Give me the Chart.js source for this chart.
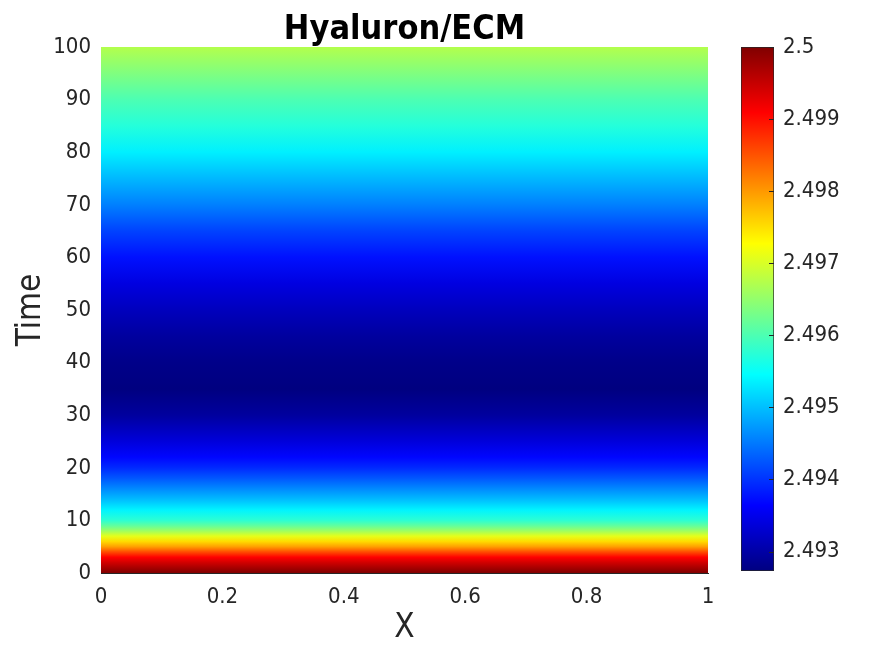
<!DOCTYPE html>
<html>
<head>
<meta charset="utf-8">
<script src="https://cdn.jsdelivr.net/npm/chart.js@4.4.1/dist/chart.umd.min.js"></script>
<style>
  html, body { margin: 0; padding: 0; background: #fff; }
  #wrap { position: relative; width: 891px; height: 645px; }
  #main { position: absolute; left: 0; top: 0; }
  #cbar { position: absolute; left: 735px; top: 0; }
</style>
</head>
<body>
<div id="wrap">
  <canvas id="main" width="891" height="645"></canvas>
  <canvas id="cbar" width="150" height="645"></canvas>
</div>
<script>
// values: Hyaluron/ECM level over time (uniform in X)
const timePoints = [0, 1, 2, 3, 4, 5, 6, 7, 8, 9, 10, 12, 14, 16, 18, 20, 22, 25, 30, 35,
  40, 45, 50, 55, 60, 65, 70, 75, 80, 85, 90, 95, 100];
const ecmValues = [2.5, 2.49971, 2.49942, 2.49909, 2.49855, 2.49796, 2.49753, 2.49709, 2.49658,
  2.49615, 2.49578, 2.49538, 2.49498, 2.49462, 2.49426, 2.49393, 2.49368, 2.49338, 2.49295,
  2.49273, 2.4928, 2.49295, 2.49317, 2.49342, 2.49375, 2.49411, 2.49455, 2.49495, 2.49535,
  2.49571, 2.496, 2.49637, 2.49673];
const xTickLabels = ['0', '0.2', '0.4', '0.6', '0.8', '1'];
const yTickLabels = ['0', '10', '20', '30', '40', '50', '60', '70', '80', '90', '100'];
const cbarTickLabels = ['2.493', '2.494', '2.495', '2.496', '2.497', '2.498', '2.499', '2.5'];
const colorMin = 2.49273;
const colorMax = 2.5;

const textColor = '#262626';
const fontFamily = '"DejaVu Sans Condensed", "DejaVu Sans", sans-serif';

// matlab jet colormap
function jet(v) {
  let p = (v - colorMin) / (colorMax - colorMin);
  p = Math.max(0, Math.min(1, p));
  const c = (x) => Math.round(255 * Math.max(0, Math.min(1, x)));
  const r = c(1.5 - Math.abs(4 * p - 3));
  const g = c(1.5 - Math.abs(4 * p - 2));
  const b = c(1.5 - Math.abs(4 * p - 1));
  return 'rgb(' + r + ',' + g + ',' + b + ')';
}

function heatGradient(context) {
  const chart = context.chart;
  if (!chart.chartArea) return null;
  const y = chart.scales.y;
  const y0 = y.getPixelForValue(0);
  const y1 = y.getPixelForValue(100);
  const grad = chart.ctx.createLinearGradient(0, y0, 0, y1);
  timePoints.forEach((t, i) => grad.addColorStop(t / 100, jet(ecmValues[i])));
  return grad;
}

new Chart(document.getElementById('main'), {
  type: 'line',
  data: {
    datasets: [{
      data: [{x: 0, y: 100}, {x: 1, y: 100}],
      fill: 'origin',
      backgroundColor: heatGradient,
      borderWidth: 0,
      pointRadius: 0
    }]
  },
  options: {
    responsive: false,
    animation: false,
    layout: { padding: { top: 0, right: 183, bottom: 0, left: 0 } },
    plugins: {
      legend: { display: false },
      tooltip: { enabled: false },
      title: {
        display: true,
        text: 'Hyaluron/ECM',
        color: '#000',
        fullSize: false,
        font: { family: fontFamily, size: 34, weight: 'bold', lineHeight: 1 },
        padding: { top: 13, bottom: 0 }
      }
    },
    scales: {
      x: {
        type: 'linear',
        min: 0,
        max: 1,
        afterBuildTicks: (s) => { s.ticks = xTickLabels.map(v => ({ value: parseFloat(v) })); },
        afterFit: (s) => { s.height = 72; },
        grid: { display: false, drawTicks: false },
        border: { display: true, color: textColor, width: 1 },
        ticks: {
          color: textColor,
          padding: 11,
          font: { family: fontFamily, size: 22 },
          callback: (v, i) => xTickLabels[i]
        },
        title: {
          display: true,
          text: 'X',
          color: textColor,
          font: { family: fontFamily, size: 33 },
          padding: { top: 0, bottom: -3 }
        }
      },
      y: {
        type: 'linear',
        min: 0,
        max: 100,
        afterBuildTicks: (s) => { s.ticks = yTickLabels.map(v => ({ value: parseFloat(v) })); },
        afterFit: (s) => { s.width = 101; },
        grid: { display: false, drawTicks: false },
        border: { display: true, color: textColor, width: 1 },
        ticks: {
          color: textColor,
          padding: 10,
          font: { family: fontFamily, size: 22 },
          callback: (v, i) => yTickLabels[i]
        },
        title: {
          display: true,
          text: 'Time',
          color: textColor,
          font: { family: fontFamily, size: 33 },
          padding: { top: 12, bottom: 0 }
        }
      }
    }
  }
});

// colorbar
const cbarTicks = {
  id: 'cbarTicks',
  afterDatasetsDraw(chart) {
    const { ctx, chartArea } = chart;
    const y = chart.scales.y;
    ctx.save();
    ctx.strokeStyle = textColor;
    ctx.lineWidth = 1;
    cbarTickLabels.forEach(l => {
      const py = Math.round(y.getPixelForValue(parseFloat(l))) + 0.5;
      ctx.beginPath();
      ctx.moveTo(chartArea.right - 5, py);
      ctx.lineTo(chartArea.right, py);
      ctx.stroke();
    });
    ctx.restore();
  }
};

function cbarGradient(context) {
  const chart = context.chart;
  if (!chart.chartArea) return null;
  const y = chart.scales.y;
  const y0 = y.getPixelForValue(colorMin);
  const y1 = y.getPixelForValue(colorMax);
  const grad = chart.ctx.createLinearGradient(0, y0, 0, y1);
  [0, 0.125, 0.375, 0.625, 0.875, 1].forEach(p => {
    grad.addColorStop(p, jet(colorMin + p * (colorMax - colorMin)));
  });
  return grad;
}

new Chart(document.getElementById('cbar'), {
  type: 'bar',
  data: {
    labels: [''],
    datasets: [{
      data: [[colorMin, colorMax]],
      backgroundColor: cbarGradient,
      borderColor: textColor,
      borderWidth: 1,
      borderSkipped: false,
      barPercentage: 1,
      categoryPercentage: 1
    }]
  },
  options: {
    responsive: false,
    animation: false,
    layout: { padding: { top: 47, right: 0, bottom: 74, left: 6 } },
    plugins: { legend: { display: false }, tooltip: { enabled: false } },
    scales: {
      x: { display: false },
      y: {
        position: 'right',
        min: colorMin,
        max: colorMax,
        afterBuildTicks: (s) => { s.ticks = cbarTickLabels.map(v => ({ value: parseFloat(v) })); },
        afterFit: (s) => { s.width = 111; },
        grid: { display: false, drawTicks: false },
        border: { display: false },
        ticks: {
          color: textColor,
          padding: 9,
          font: { family: fontFamily, size: 22 },
          callback: (v, i) => cbarTickLabels[i]
        }
      }
    }
  },
  plugins: [cbarTicks]
});
</script>
</body>
</html>
